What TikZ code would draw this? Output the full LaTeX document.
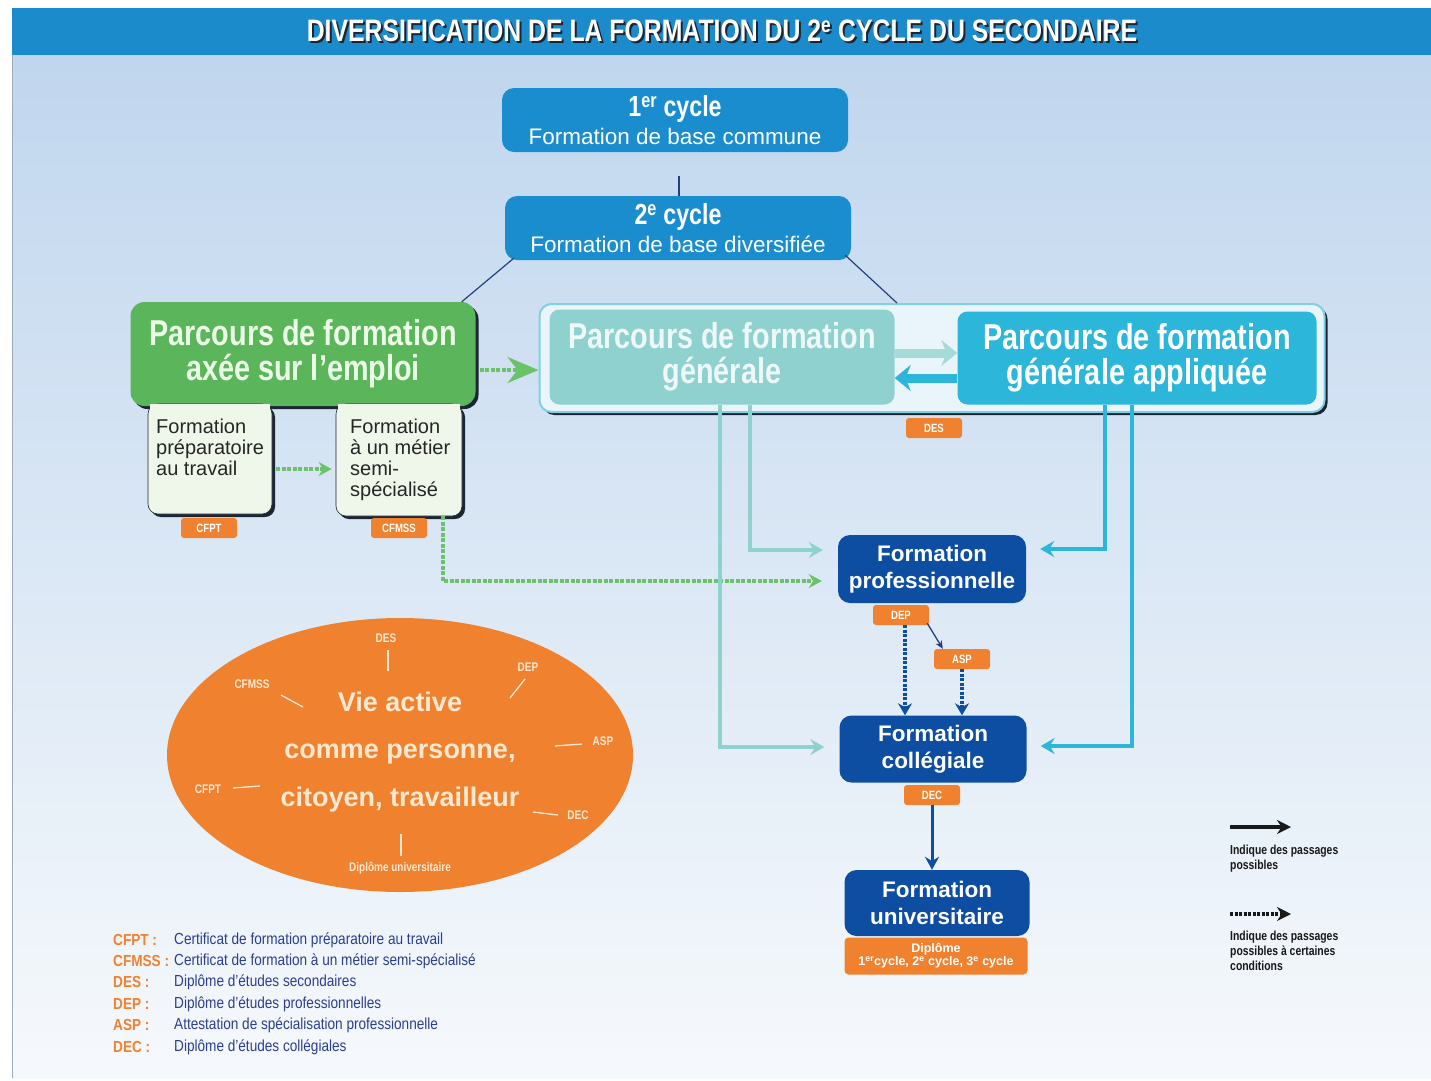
\documentclass[tikz,border=0pt]{standalone}
\usepackage{fontspec}
\setmainfont{Liberation Sans}
\newfontfamily\cnd[FakeStretch=0.8]{Liberation Sans}
\newfontfamily\cndl[FakeStretch=0.85]{Liberation Sans}
\usetikzlibrary{arrows.meta,shapes.geometric,shadows,calc}
\definecolor{titleblue}{HTML}{1B8BCB}
\definecolor{cycblue}{HTML}{1A8DCF}
\definecolor{panelt}{HTML}{C0D6EE}
\definecolor{panelb}{HTML}{F6F9FC}
\definecolor{grn}{HTML}{5AB55B}
\definecolor{grnl}{HTML}{6CC26A}
\definecolor{subg}{HTML}{EFF6EA}
\definecolor{tealb}{HTML}{8FD1CF}
\definecolor{teall}{HTML}{A6DAD8}
\definecolor{cyanb}{HTML}{2CB6DA}
\definecolor{contf}{HTML}{E9F5FB}
\definecolor{contd}{HTML}{7FD0E6}
\definecolor{dblue}{HTML}{0D4EA3}
\definecolor{orng}{HTML}{F0812E}
\definecolor{navy}{HTML}{263F7A}
\definecolor{shadc}{HTML}{1C2533}
\definecolor{cream}{HTML}{FDE8D2}
\definecolor{legblue}{HTML}{2B3F8F}
\begin{document}
\begin{tikzpicture}[x=1pt,y=-1pt,
  shad/.style={drop shadow={shadow xshift=3pt,shadow yshift=-3pt,fill=shadc,opacity=1}},
  cyc/.style={fill=cycblue,rounded corners=12pt,text=white,align=center,inner sep=0pt,minimum width=346pt,minimum height=64pt},
  tag/.style={fill=orng,rounded corners=3pt,text=white,font=\cnd\bfseries\fontsize{12}{12}\selectfont,minimum width=56pt,minimum height=20pt,inner sep=0pt},
  dbox/.style={fill=dblue,rounded corners=12pt,text=white,align=center,font=\bfseries\fontsize{22.5}{27}\selectfont,inner sep=0pt},
  bigtxt/.style={align=center,font=\cnd\bfseries\fontsize{36}{35}\selectfont,inner sep=0pt},
  subbox/.style={fill=subg,draw=shadc,line width=0.6pt,rounded corners=10pt,shad,inner sep=0pt},
  subtxt/.style={align=left,anchor=north west,text=black!85,font=\fontsize{20}{21}\selectfont,inner sep=0pt},
  tealarr/.style={draw=tealb,line width=4pt,-{Stealth[length=14pt,width=16pt,inset=5pt]},shorten >=15pt},
  cyanarr/.style={draw=cyanb,line width=4pt,-{Stealth[length=14pt,width=16pt,inset=5pt]},shorten >=14pt},
  gdot/.style={draw=grnl,line width=3.5pt,dash pattern=on 4pt off 1.5pt,-{Stealth[length=13pt,width=14pt]}},
  bdot/.style={draw=dblue,line width=4pt,dash pattern=on 3pt off 1.5pt,-{Stealth[length=12pt,width=14pt]}},
  ell/.style={text=cream,font=\cnd\bfseries\fontsize{12.5}{12}\selectfont,inner sep=0pt},
  tick/.style={draw=cream,line width=1.3pt},
  legab/.style={anchor=west,text=orng,font=\cndl\bfseries\fontsize{16}{16}\selectfont,inner sep=0pt},
  legtx/.style={anchor=west,text=legblue,font=\cndl\fontsize{16}{16}\selectfont,inner sep=0pt},
  legr/.style={anchor=north west,align=left,text=black!90,font=\cnd\bfseries\fontsize{13}{15}\selectfont,inner sep=0pt}
]
\useasboundingbox (0,0) rectangle (1431,1080);
\fill[white] (0,0) rectangle (1431,1080);
\shade[top color=panelt,bottom color=panelb] (12,55) rectangle (1431,1078);
\draw[panelt!80!black,line width=0.8pt] (12,55) -- (12,1078);
\fill[titleblue] (12,8) rectangle (1431,55);
\node[text=shadc,font=\cnd\bfseries\fontsize{31}{31}\selectfont] (tsh) at (724,33) {DIVERSIFICATION DE LA FORMATION DU 2\textsuperscript{e} CYCLE DU SECONDAIRE};
\node[text=white,font=\cnd\bfseries\fontsize{31}{31}\selectfont] (title) at (722,31) {DIVERSIFICATION DE LA FORMATION DU 2\textsuperscript{e} CYCLE DU SECONDAIRE};

% cycle boxes
\node[cyc] (c1) at (675,120) {{\cnd\bfseries\fontsize{29}{30}\selectfont 1\textsuperscript{er} cycle}\\[5pt]{\fontsize{22.5}{24}\selectfont Formation de base commune}};
\node[cyc] (c2) at (678,228) {{\cnd\bfseries\fontsize{29}{30}\selectfont 2\textsuperscript{e} cycle}\\[5pt]{\fontsize{22.5}{24}\selectfont Formation de base diversifiée}};
\coordinate (c1c) at (679,176);
\draw[navy,line width=1.2pt] (c1c) -- (c2.north -| c1c);

% green block
\node[fill=grn,rounded corners=14pt,shad,minimum width=345pt,minimum height=104pt,inner sep=0pt] (pfe) at (303,354) {};
\node[bigtxt,text=cream!60!green!20!white] (pfet) at (pfe.center) {Parcours de formation\\axée sur l’emploi};
\node[subbox,minimum width=124pt,minimum height=110pt] (sub1) at (210,459) {};
\node[subbox,minimum width=126pt,minimum height=112pt] (sub2) at (399,460) {};
\fill[subg] (150,404) rectangle (270,420);
\fill[subg] (338,404) rectangle (460,420);
\node[subtxt] (sub1t) at (156,419) {Formation\\préparatoire\\au travail};
\node[subtxt] (sub2t) at (350,419) {Formation\\à un métier\\semi-\\spécialisé};
\node[tag] (cfpt) at (209,528) {CFPT};
\node[tag] (cfmss) at (399,528) {CFMSS};

% container
\node[fill=contf,draw=contd,line width=2pt,rounded corners=12pt,shad,minimum width=785pt,minimum height=108pt,inner sep=0pt] (cont) at (932,358) {};
\node[fill=tealb,rounded corners=10pt,minimum width=345pt,minimum height=95pt,inner sep=0pt] (pfg) at (722,357) {};
\node[bigtxt,text=white!85!tealb] (pfgt) at (pfg.center) {Parcours de formation\\générale};
\node[fill=cyanb,rounded corners=10pt,minimum width=359pt,minimum height=93pt,inner sep=0pt] (pfga) at (1137,358) {};
\node[bigtxt,text=white] (pfgat) at (pfga.center) {Parcours de formation\\générale appliquée};
\draw[draw=teall,line width=9pt,-{Stealth[length=16pt,width=26pt]}] ([yshift=4pt]pfg.east) -- ([yshift=4pt]pfg.east -| pfga.west);
\draw[draw=cyanb,line width=9pt,-{Stealth[length=16pt,width=26pt]}] ([yshift=-20pt]pfga.west) -- ([yshift=-20pt]pfga.west -| pfg.east);
\node[tag] (des) at (934,428) {DES};

% blue boxes
\node[dbox,minimum width=188pt,minimum height=68pt] (fprof) at (932,569) {Formation\\professionnelle};
\node[dbox,minimum width=187pt,minimum height=67pt] (fcoll) at (933,749) {Formation\\collégiale};
\node[dbox,minimum width=185pt,minimum height=66pt] (funiv) at (937,903) {Formation\\universitaire};
\node[fill=orng,rounded corners=4pt,minimum width=183pt,minimum height=37pt,inner sep=0pt,text=white,align=center,font=\bfseries\fontsize{12.5}{13}\selectfont] (dipl) at (936,956) {Diplôme\\1\textsuperscript{er}cycle, 2\textsuperscript{e} cycle, 3\textsuperscript{e} cycle};
\node[tag] (dep) at (901,615) {DEP};
\node[tag] (asp) at (962,659) {ASP};
\node[tag] (dec) at (932,795) {DEC};

% connectors from 2e cycle
\draw[navy,line width=1.2pt] ([xshift=9pt,yshift=2pt]c2.south west) -- ([xshift=-14pt]pfe.north east);
\draw[navy,line width=1.2pt] ([xshift=-6pt,yshift=5pt]c2.south east) -- ([xshift=-35pt]cont.north);
% green dotted
\draw[gdot,-{Stealth[length=31pt,width=26pt]}] ([yshift=-16pt,xshift=4pt]pfe.east) -- ([yshift=-16pt]pfe.east -| cont.west);
\draw[gdot] ([yshift=-10pt,xshift=4pt]sub1.east) -- ([yshift=-10pt,xshift=-4pt]sub1.east -| sub2.west);
\draw[gdot,shorten >=16pt] ([xshift=44pt]sub2.south) |- ([yshift=-12pt]fprof.west);

% teal and cyan
\draw[tealarr] ([xshift=28pt]pfg.south) |- ([yshift=19pt]fprof.west);
\draw[tealarr] ([xshift=-2pt]pfg.south) |- ([yshift=2pt]fcoll.west);
\draw[cyanarr] ([xshift=-32pt]pfga.south) |- ([yshift=20pt]fprof.east);
\draw[cyanarr] ([xshift=-5pt]pfga.south) |- ([yshift=3pt]fcoll.east);

% blue connectors
\draw[navy,line width=1.3pt,-{Stealth[length=8pt,width=7pt]}] ([xshift=-2pt,yshift=2pt]dep.south east) -- ([xshift=9pt]asp.north west);
\draw[bdot] ([xshift=4pt]dep.south) -- ([xshift=-28pt]fcoll.north);
\draw[bdot] (asp.south) -- (asp.south |- fcoll.north);
\draw[draw=dblue,line width=3pt,-{Stealth[length=13pt,width=14pt]}] (dec.south) -- (dec.south |- funiv.north);

% ellipse
\node[ellipse,fill=orng,minimum width=466pt,minimum height=274pt,inner sep=0pt] (vie) at (400,755) {};
\node[text=cream,align=center,font=\bfseries\fontsize{27}{47.5}\selectfont,inner sep=0pt] (viet) at (400,752) {Vie active\\comme personne,\\citoyen, travailleur};
\node[ell] (eDES) at (386,638) {DES};
\node[ell] (eDEP) at (528,667) {DEP};
\node[ell] (eASP) at (603,741) {ASP};
\node[ell] (eDEC) at (578,815) {DEC};
\node[ell] (eCFPT) at (208,789) {CFPT};
\node[ell] (eCFMSS) at (252,684) {CFMSS};
\node[ell] (eDU) at (400,868) {Diplôme universitaire};
\draw[tick] (388,650) -- (388,671);
\draw[tick] (525,679) -- (510,698);
\draw[tick] (555,746) -- (582,744);
\draw[tick] (533,812) -- (558,815);
\draw[tick] (233,788) -- (260,786);
\draw[tick] (281,695) -- (303,707);
\draw[tick] (401,834) -- (401,856);

% legend left
\node[legab] (l1a) at (113,940) {CFPT :};
\node[legtx] (l1b) at (174,940) {Certificat de formation préparatoire au travail};
\node[legab] (l2a) at (113,961) {CFMSS :};
\node[legtx] (l2b) at (174,961) {Certificat de formation à un métier semi-spécialisé};
\node[legab] (l3a) at (113,982) {DES :};
\node[legtx] (l3b) at (174,982) {Diplôme d’études secondaires};
\node[legab] (l4a) at (113,1004) {DEP :};
\node[legtx] (l4b) at (174,1004) {Diplôme d’études professionnelles};
\node[legab] (l5a) at (113,1025) {ASP :};
\node[legtx] (l5b) at (174,1025) {Attestation de spécialisation professionnelle};
\node[legab] (l6a) at (113,1047) {DEC :};
\node[legtx] (l6b) at (174,1047) {Diplôme d’études collégiales};

% legend right
\coordinate (ra1) at (1230,827);
\coordinate (ra2) at (1291,827);
\draw[black!90,line width=4pt,-{Stealth[length=14pt,width=14pt]}] (ra1) -- (ra2);
\node[legr] (rt1) at (1230,845) {Indique des passages\\possibles};
\coordinate (rb1) at (1230,914);
\coordinate (rb2) at (1291,914);
\draw[black!90,line width=4pt,dash pattern=on 3pt off 1.5pt,-{Stealth[length=14pt,width=14pt]}] (rb1) -- (rb2);
\node[legr] (rt2) at (1230,931) {Indique des passages\\possibles à certaines\\conditions};
\end{tikzpicture}
\end{document}
